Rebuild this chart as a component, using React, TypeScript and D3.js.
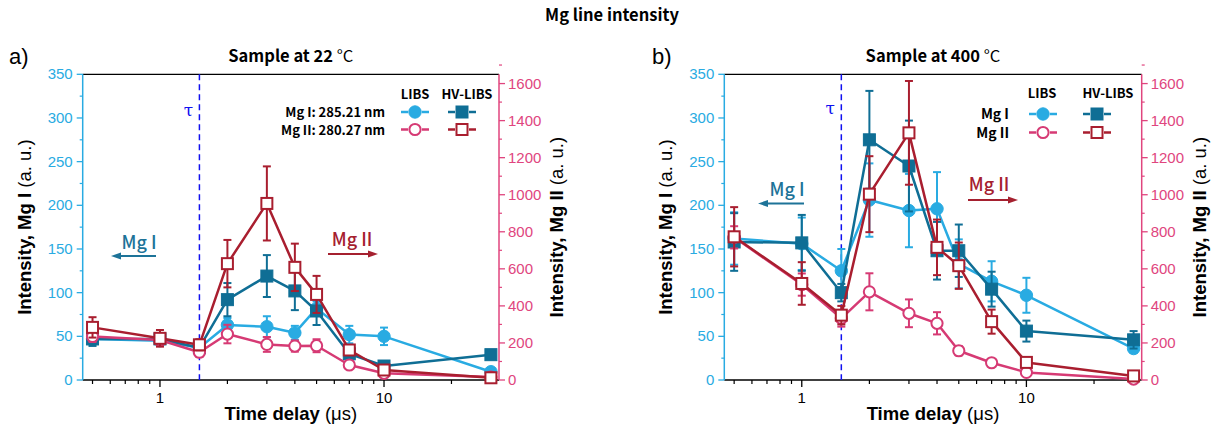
import React from "react";
import * as d3 from "d3";

const times = [0.5, 1, 1.5, 2, 3, 4, 5, 7, 10, 30];

// Panel a) sample at 22 °C
const aLibsMg1 = [47, 45, 37, 63, 61, 54, 82, 52, 50, 9.5];
const aLibsMg1Err = [6, 5, 4, 8, 12, 8, 8, 10, 10, 3];
const aHvMg1 = [47, 47, 37, 92, 119, 102, 79, 30, 16, 29];
const aHvMg1Err = [8, 6, 5, 19, 24, 22, 16, 5, 3, 4];
const aLibsMg2 = [235, 216, 150, 248, 192, 183, 185, 81, 36, 16];
const aLibsMg2Err = [30, 30, 25, 50, 40, 30, 35, 10, 8, 4];
const aHvMg2 = [284, 225, 190, 628, 953, 608, 462, 162, 54, 12];
const aHvMg2Err = [55, 45, 30, 128, 200, 128, 100, 20, 10, 4];

// Panel b) sample at 400 °C
const bLibsMg1 = [162, 156, 125, 206, 194, 196, 133, 113, 97, 36];
const bLibsMg1Err = [30, 30, 25, 42, 42, 42, 28, 23, 20, 5];
const bHvMg1 = [158, 157, 100, 275, 245, 148, 148, 104, 56, 46];
const bHvMg1Err = [33, 32, 10, 56, 52, 33, 30, 20, 12, 10];
const bLibsMg2 = [770, 515, 333, 476, 360, 306, 158, 93, 41, 5];
const bLibsMg2Err = [60, 60, 45, 100, 75, 60, 25, 12, 10, 5];
const bHvMg2 = [773, 521, 350, 1003, 1334, 716, 617, 315, 95, 22];
const bHvMg2Err = [160, 115, 50, 205, 280, 150, 125, 65, 12, 8];

const xMajorTicks = [1, 10];
const xMinorTicks = [0.5, 0.6, 0.7, 0.8, 0.9, 2, 3, 4, 5, 6, 7, 8, 9, 20, 30];
const yLeftTicks = [0, 50, 100, 150, 200, 250, 300, 350];
const yRightTicks = [0, 200, 400, 600, 800, 1000, 1200, 1400, 1600];
const tau = 1.5;

const C_LB = "#29ABE2";
const C_TEAL = "#0F6E95";
const C_PINK = "#D63A74";
const C_RED = "#A91E2F";
const C_AXL = "#29ABE2";
const C_AXR = "#E0457E";
const C_TAU = "#1010F0";

const TITLE_FONT = "'Noto Sans CJK JP', 'Noto Sans', sans-serif";
const AX_FONT = "'Liberation Sans', Arial, sans-serif";

const Y_TOP = 74.3;
const Y_BOT = 380;

type Series = { y: number[]; err: number[]; color: string; shape: "circle" | "square"; filled: boolean; right: boolean };

function Marker({ x, y, color, shape, filled }: { x: number; y: number; color: string; shape: string; filled: boolean }) {
  if (shape === "circle") {
    return filled ? (
      <circle cx={x} cy={y} r={6.2} fill={color} stroke={color} strokeWidth={1} />
    ) : (
      <circle cx={x} cy={y} r={5.6} fill="#fff" stroke={color} strokeWidth={2} />
    );
  }
  return filled ? (
    <rect x={x - 6} y={y - 6} width={12} height={12} fill={color} stroke={color} strokeWidth={1} />
  ) : (
    <rect x={x - 5.5} y={y - 5.5} width={11} height={11} fill="#fff" stroke={color} strokeWidth={2} />
  );
}

function Panel({ x0, x1, title, label, series, legendFull, lg }: any) {
  const xs = d3.scaleLog().domain([0.452, 32.6]).range([x0, x1]);
  const yL = d3.scaleLinear().domain([0, 350]).range([Y_BOT, Y_TOP]);
  const yR = d3.scaleLinear().domain([0, 1650]).range([Y_BOT, Y_TOP]);
  const cx = (x0 + x1) / 2;
  const cy = (Y_TOP + Y_BOT) / 2;
  const tx = xs(tau);

  const renderSeries = (s: Series, i: number) => {
    const ys = s.right ? yR : yL;
    const line = d3
      .line<number>()
      .x((_, k) => xs(times[k]))
      .y((v) => ys(v));
    return (
      <g key={i}>
        <path d={line(s.y) || ""} fill="none" stroke={s.color} strokeWidth={2.5} strokeLinejoin="round" />
        {s.y.map((v, k) => {
          const px = xs(times[k]);
          const t = ys(v + s.err[k]);
          const b = ys(Math.max(0, v - s.err[k]));
          return (
            <g key={k} stroke={s.color} strokeWidth={2}>
              <line x1={px} x2={px} y1={t} y2={b} />
              <line x1={px - 4} x2={px + 4} y1={t} y2={t} />
              <line x1={px - 4} x2={px + 4} y1={b} y2={b} />
            </g>
          );
        })}
        {s.y.map((v, k) => (
          <Marker key={"m" + k} x={xs(times[k])} y={ys(v)} color={s.color} shape={s.shape} filled={s.filled} />
        ))}
      </g>
    );
  };

  const legendSym = (x: number, y: number, color: string, shape: string, filled: boolean) => (
    <g>
      <line x1={x - 14} x2={x - 7} y1={y} y2={y} stroke={color} strokeWidth={2.5} />
      <line x1={x + 7} x2={x + 14} y1={y} y2={y} stroke={color} strokeWidth={2.5} />
      <Marker x={x} y={y} color={color} shape={shape} filled={filled} />
    </g>
  );

  return (
    <g>
      {/* frame */}
      <line x1={x0} x2={x1} y1={Y_TOP} y2={Y_TOP} stroke="#000" strokeWidth={1.3} />
      <line x1={x0} x2={x1} y1={Y_BOT} y2={Y_BOT} stroke="#000" strokeWidth={1.3} />
      <line x1={x0} x2={x0} y1={Y_TOP} y2={Y_BOT} stroke={C_AXL} strokeWidth={1.5} />
      <line x1={x1} x2={x1} y1={Y_TOP} y2={Y_BOT} stroke={C_AXR} strokeWidth={1.5} />

      {/* x ticks */}
      {xMajorTicks.map((t) => (
        <g key={"xm" + t}>
          <line x1={xs(t)} x2={xs(t)} y1={Y_BOT} y2={Y_BOT + 7} stroke="#000" strokeWidth={1.3} />
          <text x={xs(t)} y={Y_BOT + 23} textAnchor="middle" fontFamily={AX_FONT} fontSize={15}>
            {t}
          </text>
        </g>
      ))}
      {xMinorTicks.map((t) => (
        <line key={"xn" + t} x1={xs(t)} x2={xs(t)} y1={Y_BOT} y2={Y_BOT + 4} stroke="#000" strokeWidth={1.2} />
      ))}

      {/* left y ticks */}
      {yLeftTicks.map((t) => (
        <g key={"yl" + t}>
          <line x1={x0} x2={x0 - 6} y1={yL(t)} y2={yL(t)} stroke={C_AXL} strokeWidth={1.3} />
          <text x={x0 - 10} y={yL(t) + 5} textAnchor="end" fontFamily={AX_FONT} fontSize={15} fill={C_AXL}>
            {t}
          </text>
          {t < 350 && <line x1={x0} x2={x0 - 3} y1={yL(t + 25)} y2={yL(t + 25)} stroke={C_AXL} strokeWidth={1.2} />}
        </g>
      ))}
      {/* right y ticks */}
      {yRightTicks.map((t) => (
        <g key={"yr" + t}>
          <line x1={x1} x2={x1 + 6} y1={yR(t)} y2={yR(t)} stroke={C_AXR} strokeWidth={1.3} />
          <text x={x1 + 9} y={yR(t) + 5} textAnchor="start" fontFamily={AX_FONT} fontSize={15} fill={C_AXR}>
            {t}
          </text>
          <line x1={x1} x2={x1 + 3} y1={yR(t + 100)} y2={yR(t + 100)} stroke={C_AXR} strokeWidth={1.2} />
        </g>
      ))}

      {/* tau */}
      <line x1={tx} x2={tx} y1={Y_TOP} y2={Y_BOT} stroke={C_TAU} strokeWidth={1.5} strokeDasharray="6,4" />
      <text x={tx - 11} y={lg.tauY} textAnchor="middle" fontFamily="'DejaVu Serif', serif" fontSize={17} fill={C_TAU}>
        τ
      </text>

      {/* series */}
      {series.map(renderSeries)}

      {/* annotations */}
      <text x={lg.mg1X} y={lg.mg1Y} textAnchor="middle" fontFamily={TITLE_FONT} fontSize={18} fontWeight={500} fill="#1D7398">
        Mg I
      </text>
      <line x1={lg.mg1A1} x2={lg.mg1A0 + 8} y1={lg.mg1AY} y2={lg.mg1AY} stroke="#1D7398" strokeWidth={2} />
      <path d={`M${lg.mg1A0},${lg.mg1AY} l10,-3.5 l0,7 z`} fill="#1D7398" />
      <text x={lg.mg2X} y={lg.mg2Y} textAnchor="middle" fontFamily={TITLE_FONT} fontSize={18} fontWeight={500} fill="#A5202F">
        Mg II
      </text>
      <line x1={lg.mg2A0} x2={lg.mg2A1 - 8} y1={lg.mg2AY} y2={lg.mg2AY} stroke="#A5202F" strokeWidth={2} />
      <path d={`M${lg.mg2A1},${lg.mg2AY} l-10,-3.5 l0,7 z`} fill="#A5202F" />

      {/* legend */}
      <text x={lg.c1} y={lg.hy} textAnchor="middle" fontFamily={TITLE_FONT} fontSize={13} fontWeight={700}>
        LIBS
      </text>
      <text x={lg.c2} y={lg.hy} textAnchor="middle" fontFamily={TITLE_FONT} fontSize={13} fontWeight={700}>
        HV-LIBS
      </text>
      <text x={lg.tx} y={lg.r1 + 5} textAnchor="end" fontFamily={TITLE_FONT} fontSize={legendFull ? 13 : 14} fontWeight={600}>
        {legendFull ? "Mg I: 285.21 nm" : "Mg I"}
      </text>
      <text x={lg.tx} y={lg.r2 + 5} textAnchor="end" fontFamily={TITLE_FONT} fontSize={legendFull ? 13 : 14} fontWeight={600}>
        {legendFull ? "Mg II: 280.27 nm" : "Mg II"}
      </text>
      {legendSym(lg.s1, lg.r1, C_LB, "circle", true)}
      {legendSym(lg.s2, lg.r1, C_TEAL, "square", true)}
      {legendSym(lg.s1, lg.r2, C_PINK, "circle", false)}
      {legendSym(lg.s2, lg.r2, C_RED, "square", false)}

      {/* titles */}
      <text x={cx} y={62} textAnchor="middle" fontFamily={TITLE_FONT} fontSize={16.5} fontWeight={700}>
        {title}
        <tspan fontWeight={400}> °C</tspan>
      </text>
      <text x={lg.labX} y={64} fontFamily={AX_FONT} fontSize={22}>
        {label}
      </text>

      {/* axis titles */}
      <text x={cx} y={420} textAnchor="middle" fontFamily={AX_FONT} fontSize={18.5}>
        <tspan fontWeight={700}>Time delay</tspan>
        <tspan> (μs)</tspan>
      </text>
      <text transform={`translate(${x0 - 52},${cy}) rotate(-90)`} textAnchor="middle" fontFamily={AX_FONT} fontSize={18.5}>
        <tspan fontWeight={700}>Intensity, Mg I</tspan>
        <tspan> (a. u.)</tspan>
      </text>
      <text transform={`translate(${x1 + 64},${cy}) rotate(-90)`} textAnchor="middle" fontFamily={AX_FONT} fontSize={18.5}>
        <tspan fontWeight={700}>Intensity, Mg II</tspan>
        <tspan> (a. u.)</tspan>
      </text>
    </g>
  );
}

export default function App() {
  const seriesA: Series[] = [
    { y: aLibsMg1, err: aLibsMg1Err, color: C_LB, shape: "circle", filled: true, right: false },
    { y: aHvMg1, err: aHvMg1Err, color: C_TEAL, shape: "square", filled: true, right: false },
    { y: aLibsMg2, err: aLibsMg2Err, color: C_PINK, shape: "circle", filled: false, right: true },
    { y: aHvMg2, err: aHvMg2Err, color: C_RED, shape: "square", filled: false, right: true },
  ];
  const seriesB: Series[] = [
    { y: bLibsMg1, err: bLibsMg1Err, color: C_LB, shape: "circle", filled: true, right: false },
    { y: bHvMg1, err: bHvMg1Err, color: C_TEAL, shape: "square", filled: true, right: false },
    { y: bLibsMg2, err: bLibsMg2Err, color: C_PINK, shape: "circle", filled: false, right: true },
    { y: bHvMg2, err: bHvMg2Err, color: C_RED, shape: "square", filled: false, right: true },
  ];
  const lgA = {
    tauY: 116, mg1X: 139, mg1Y: 249, mg1A0: 111, mg1A1: 156, mg1AY: 256,
    mg2X: 352, mg2Y: 246, mg2A0: 328, mg2A1: 378, mg2AY: 254,
    c1: 415, c2: 467, hy: 99, tx: 385, r1: 112, r2: 129.5, s1: 415, s2: 462, labX: 9,
  };
  const lgB = {
    tauY: 114, mg1X: 787, mg1Y: 196, mg1A0: 758, mg1A1: 804, mg1AY: 203.5,
    mg2X: 989, mg2Y: 191, mg2A0: 968, mg2A1: 1018, mg2AY: 200,
    c1: 1042, c2: 1108, hy: 98, tx: 1009, r1: 114, r2: 132.5, s1: 1043, s2: 1097, labX: 652,
  };
  return (
    <svg width={1220} height={443} style={{ position: "absolute", left: 0, top: 0, background: "#fff" }}>
      <rect width={1220} height={443} fill="#fff" />
      <text x={612} y={21} textAnchor="middle" fontFamily={TITLE_FONT} fontSize={16.5} fontWeight={700}>
        Mg line intensity
      </text>
      <Panel x0={82.7} x1={499} title="Sample at 22" label="a)" series={seriesA} legendFull={true} lg={lgA} />
      <Panel x0={724.3} x1={1141.7} title="Sample at 400" label="b)" series={seriesB} legendFull={false} lg={lgB} />
    </svg>
  );
}
